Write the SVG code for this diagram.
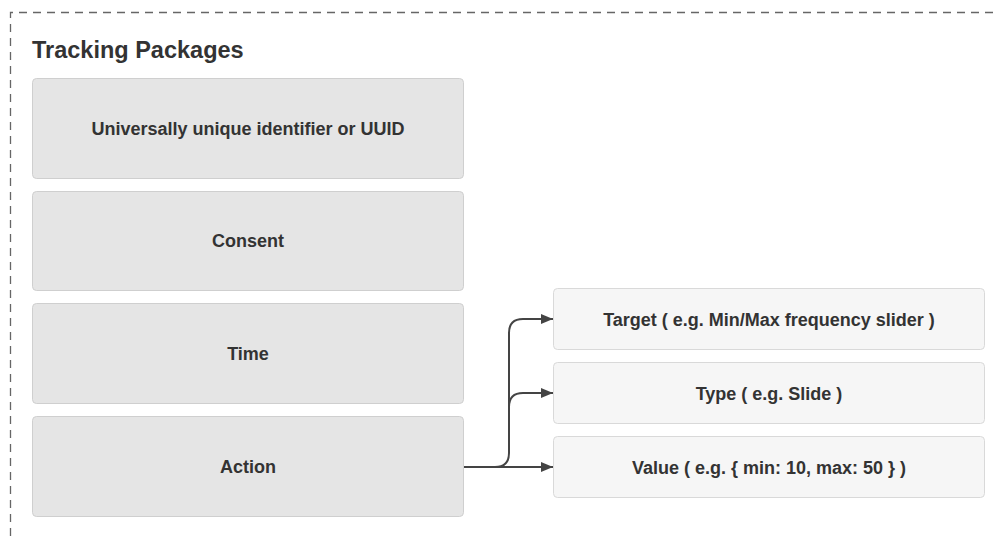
<svg xmlns="http://www.w3.org/2000/svg" width="993" height="536" viewBox="0 0 993 536">
<defs>
<style>
.frame{fill:none;stroke:#666;stroke-width:1.3;stroke-dasharray:8 6}
.title{font-family:"Liberation Sans",Arial,sans-serif;font-weight:bold;font-size:23.5px;fill:#333}
.pkg{fill:#e5e5e5;stroke:#cfcfcf;stroke-width:1}
.sub{fill:#f6f6f6;stroke:#d9d9d9;stroke-width:1}
.lbl{font-family:"Liberation Sans",Arial,sans-serif;font-weight:bold;font-size:18px;fill:#333;text-anchor:middle}
.conn{fill:none;stroke:#444;stroke-width:2}
</style>
<marker id="arr" viewBox="0 0 12 10" refX="12" refY="5" markerWidth="12" markerHeight="10" markerUnits="userSpaceOnUse" orient="auto">
<path d="M0,0 L12,5 L0,10 Z" fill="#444"/>
</marker>
</defs>
<rect width="993" height="536" fill="#fff"/>
<path class="frame" d="M10.5,536 V12.5 H993"/>
<text class="title" x="32" y="58">Tracking Packages</text>
<g id="uuid">
<rect class="pkg" x="32.5" y="78.5" width="431" height="100" rx="4"/>
<text class="lbl" x="248" y="135">Universally unique identifier or UUID</text>
</g>
<g id="consent">
<rect class="pkg" x="32.5" y="191.5" width="431" height="99" rx="4"/>
<text class="lbl" x="248" y="247">Consent</text>
</g>
<g id="time">
<rect class="pkg" x="32.5" y="303.5" width="431" height="100" rx="4"/>
<text class="lbl" x="248" y="360">Time</text>
</g>
<g id="action">
<rect class="pkg" x="32.5" y="416.5" width="431" height="100" rx="4"/>
<text class="lbl" x="248" y="473">Action</text>
</g>
<g id="target">
<rect class="sub" x="553.5" y="288.5" width="431" height="61" rx="4"/>
<text class="lbl" x="769" y="325.5">Target ( e.g. Min/Max frequency slider )</text>
</g>
<g id="type">
<rect class="sub" x="553.5" y="362.5" width="431" height="61" rx="4"/>
<text class="lbl" x="769" y="399.5">Type ( e.g. Slide )</text>
</g>
<g id="value">
<rect class="sub" x="553.5" y="436.5" width="431" height="61" rx="4"/>
<text class="lbl" x="769" y="473.5">Value ( e.g. { min: 10, max: 50 } )</text>
</g>
<g id="connectors">
<path class="conn" d="M464,467 H553" marker-end="url(#arr)"/>
<path class="conn" d="M464,467 H495 Q509,467 509,453 V333 Q509,319 523,319 H553" marker-end="url(#arr)"/>
<path class="conn" d="M509,407 Q509,393 523,393 H553" marker-end="url(#arr)"/>
</g>
</svg>
